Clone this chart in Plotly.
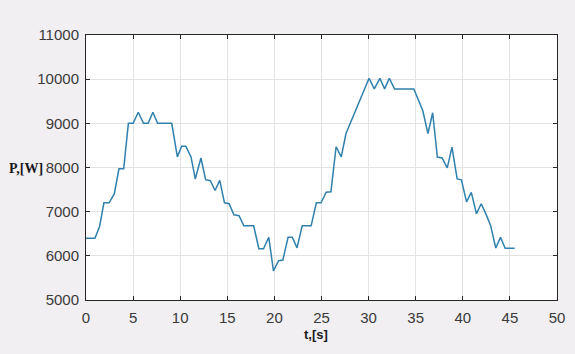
import plotly.graph_objects as go

# Time samples [s] and measured power [W]
t_s = [0, 0.95, 1.45, 1.9, 2.45, 3.0, 3.5, 4.0, 4.5, 5.0, 5.55, 6.1, 6.6, 7.1, 7.6,
       9.1, 9.7, 10.15, 10.6, 11.15, 11.6, 12.2, 12.7, 13.2, 13.7, 14.2, 14.7, 15.2,
       15.7, 16.25, 16.75, 17.8, 18.35, 18.85, 19.4, 19.9, 20.45, 20.9, 21.45, 21.9,
       22.4, 22.95, 23.9, 24.45, 24.95, 25.5, 26.0, 26.55, 27.1, 27.6, 30.05, 30.6,
       31.2, 31.7, 32.2, 32.75, 34.8, 35.75, 36.3, 36.8, 37.3, 37.8, 38.35, 38.85,
       39.4, 39.85, 40.4, 40.9, 41.45, 41.95, 42.45, 42.95, 43.5, 44.0, 44.5, 45.5]
power_w = [6400, 6400, 6670, 7200, 7200, 7400, 7970, 7970, 9000, 9000, 9250, 9000, 9000, 9250, 9000,
           9000, 8240, 8480, 8480, 8240, 7740, 8215, 7725, 7700, 7480, 7710, 7200, 7180,
           6930, 6910, 6680, 6680, 6160, 6160, 6420, 5660, 5890, 5905, 6420, 6420,
           6180, 6680, 6680, 7200, 7200, 7440, 7450, 8470, 8240, 8770, 10020, 9780,
           10020, 9780, 10020, 9780, 9780, 9290, 8765, 9240, 8237, 8215, 7990, 8460,
           7740, 7720, 7220, 7436, 6954, 7180, 6950, 6690, 6177, 6417, 6170, 6170]
assert len(t_s) == len(power_w)

x_ticks = [0, 5, 10, 15, 20, 25, 30, 35, 40, 45, 50]
y_ticks = [5000, 6000, 7000, 8000, 9000, 10000, 11000]

fig = go.Figure()
fig.add_trace(go.Scatter(
    x=t_s, y=power_w, mode="lines",
    line=dict(color="#2f80ad", width=1.5),
    showlegend=False,
))

axis_common = dict(
    showgrid=True, gridcolor="#e3e3e3", gridwidth=1,
    showline=True, linecolor="#262626", linewidth=1, mirror="allticks",
    ticks="inside", ticklen=4, tickcolor="#262626",
    tickfont=dict(family="Liberation Sans, Arial, sans-serif", size=15, color="#3a3a3a"),
    zeroline=False,
)

fig.update_xaxes(range=[0, 50], tickvals=x_ticks, ticktext=[str(v) for v in x_ticks],
                 ticklabelstandoff=4, **axis_common)
fig.update_yaxes(range=[5000, 11000], tickvals=y_ticks, ticktext=[str(v) for v in y_ticks],
                 ticklabelstandoff=3, **axis_common)

# Axis titles placed by pixel position (converted to paper fractions below)
fig.add_annotation(
    text="<b>P,[W]</b>", x=25, y=168, showarrow=False,
    xanchor="center", yanchor="middle",
    font=dict(family="Liberation Serif, Times New Roman, serif", size=14, color="#1a1a1a"),
)
fig.add_annotation(
    text="<b>t,[s]</b>", x=320, y=334, showarrow=False,
    xanchor="center", yanchor="middle",
    font=dict(family="Liberation Sans Narrow, Liberation Sans, Arial, sans-serif", size=13, color="#1a1a1a"),
)

fig.update_layout(
    width=575, height=354,
    margin=dict(l=86, r=10, t=35, b=54),
    paper_bgcolor="#f1eff2", plot_bgcolor="#ffffff",
)

pw, ph = 575 - 86 - 10, 354 - 35 - 54
for ann in fig.layout.annotations:
    px, py = ann.x, ann.y
    ann.xref, ann.yref = "paper", "paper"
    ann.x = (px - 86) / pw
    ann.y = (354 - 54 - py) / ph

fig.write_html("out.html")
